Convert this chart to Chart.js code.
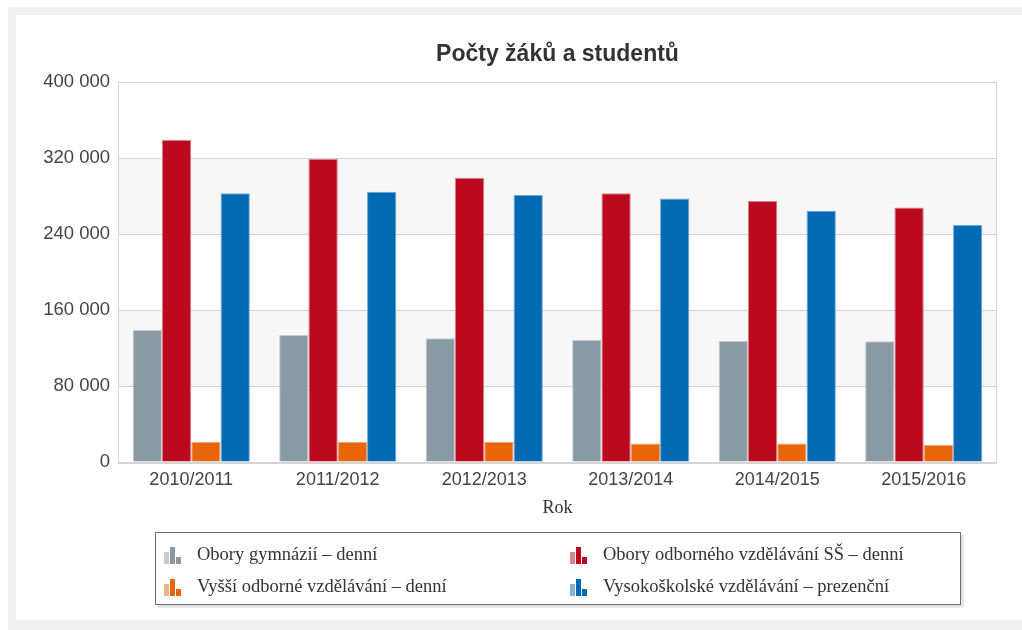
<!DOCTYPE html>
<html>
<head>
<meta charset="utf-8">
<script src="https://cdn.jsdelivr.net/npm/chart.js@4/dist/chart.umd.min.js"></script>
<style>
  html, body { margin: 0; padding: 0; background: #ffffff; }
  #wrap { width: 1022px; height: 630px; position: relative; }
  canvas { display: block; }
</style>
</head>
<body>
<div id="wrap"><canvas id="c" width="1022" height="630"></canvas></div>
<script>
const chartTitle = "Počty žáků a studentů";
const xAxisTitle = "Rok";
const categories = ["2010/2011", "2011/2012", "2012/2013", "2013/2014", "2014/2015", "2015/2016"];
const seriesNames = [
  "Obory gymnázií – denní",
  "Obory odborného vzdělávání SŠ – denní",
  "Vyšší odborné vzdělávání – denní",
  "Vysokoškolské vzdělávání – prezenční"
];
const gymnazia = [139000, 133700, 130200, 128400, 127400, 127000];
const odborne = [338900, 318900, 299300, 282800, 274700, 268000];
const vyssi = [21400, 21400, 21000, 19600, 19600, 17900];
const vysoke = [282800, 284500, 281000, 277500, 264500, 249500];
const yTicks = [0, 80000, 160000, 240000, 320000, 400000];

const fills = ["#8a9aa4", "#bb0a1e", "#e8650c", "#0369b3"];
const edges = ["#c3ccd2", "#dd7d88", "#f3a26c", "#6fa9d9"];

const fmt = v => String(v).replace(/\B(?=(\d{3})+(?!\d))/g, " ");

const framePlugin = {
  id: "frame",
  beforeDraw(chart) {
    const ctx = chart.ctx;
    ctx.save();
    ctx.fillStyle = "#ffffff";
    ctx.fillRect(0, 0, chart.width, chart.height);
    ctx.fillStyle = "#f1f1f1";
    ctx.fillRect(8, 7, chart.width - 8, 8);
    ctx.fillRect(8, 7, 8, chart.height - 7);
    ctx.fillRect(8, 620, chart.width - 8, 10);
    // alternating bands
    const a = chart.chartArea, y = chart.scales.y;
    ctx.fillStyle = "#f7f7f7";
    [[80000, 160000], [240000, 320000]].forEach(([lo, hi]) => {
      const t = y.getPixelForValue(hi), b = y.getPixelForValue(lo);
      ctx.fillRect(a.left, t, a.right - a.left, b - t);
    });
    // title, centred over the plot area
    ctx.fillStyle = "#333333";
    ctx.font = "bold 23px 'Liberation Sans', Arial, sans-serif";
    ctx.textAlign = "center";
    ctx.textBaseline = "middle";
    ctx.fillText(chartTitle, (a.left + a.right) / 2, 55);
    ctx.restore();
  },
  afterDraw(chart) {
    const ctx = chart.ctx;
    const a = chart.chartArea;
    ctx.save();
    ctx.strokeStyle = "#d4d4d4";
    ctx.lineWidth = 1;
    ctx.strokeRect(Math.round(a.left) + 0.5, Math.round(a.top) + 0.5, Math.round(a.right - a.left) - 1, Math.round(a.bottom - a.top));
    ctx.lineWidth = 2;
    ctx.beginPath();
    ctx.moveTo(a.left, Math.round(a.bottom) + 1);
    ctx.lineTo(a.right, Math.round(a.bottom) + 1);
    ctx.stroke();

    // legend box
    const bx = 155.5, by = 532.5, bw = 805, bh = 72;
    ctx.fillStyle = "rgba(0,0,0,0.12)";
    ctx.fillRect(bx + 2, by + 2, bw + 1, bh + 1);
    ctx.fillStyle = "#ffffff";
    ctx.fillRect(bx, by, bw, bh);
    ctx.strokeStyle = "#6e6e6e";
    ctx.lineWidth = 1;
    ctx.strokeRect(bx, by, bw, bh);

    const ds = chart.data.datasets;
    const cols = [164, 570];
    const rows = [555, 587];
    ds.forEach((d, i) => {
      const cx = cols[i % 2], cy = rows[Math.floor(i / 2)];
      const base = cy + 9;
      ctx.globalAlpha = 0.5;
      ctx.fillStyle = d.backgroundColor;
      ctx.fillRect(cx, base - 12, 5, 12);
      ctx.globalAlpha = 1;
      ctx.fillRect(cx + 6, base - 17, 5, 17);
      ctx.fillRect(cx + 12, base - 7, 5, 7);
      ctx.fillStyle = "#333333";
      ctx.font = "18.5px 'Liberation Serif', serif";
      ctx.textBaseline = "middle";
      ctx.textAlign = "left";
      ctx.fillText(d.label, cx + 33, cy);
    });
    ctx.restore();
  }
};

const datasets = [gymnazia, odborne, vyssi, vysoke].map((vals, i) => ({
  label: seriesNames[i],
  data: vals,
  backgroundColor: fills[i],
  borderColor: edges[i],
  borderWidth: 1,
  borderSkipped: "bottom",
  categoryPercentage: 0.8,
  barPercentage: 1.0
}));

new Chart(document.getElementById("c"), {
  type: "bar",
  data: { labels: categories, datasets },
  plugins: [framePlugin],
  options: {
    responsive: false,
    animation: false,
    devicePixelRatio: 1,
    layout: { padding: { left: 0, right: 25, top: 82, bottom: 111 } },
    plugins: {
      legend: { display: false },
      tooltip: { enabled: false },
      title: { display: false }
    },
    scales: {
      x: {
        grid: { display: false, drawTicks: false },
        border: { display: false },
        ticks: {
          color: "#444444",
          padding: 7,
          maxRotation: 0,
          font: { family: "'Liberation Sans', Arial, sans-serif", size: 18 }
        },
        title: {
          display: true,
          text: xAxisTitle,
          color: "#333333",
          padding: { top: 0, bottom: 0 },
          font: { family: "'Liberation Serif', serif", size: 18 }
        },
        afterFit(scale) { scale.height = 57; }
      },
      y: {
        min: 0,
        max: 400000,
        afterBuildTicks(scale) { scale.ticks = yTicks.map(v => ({ value: v })); },
        grid: { color: "#d4d4d4", lineWidth: 1, drawTicks: false },
        border: { display: true, color: "#d4d4d4" },
        ticks: {
          color: "#444444",
          padding: 8,
          font: { family: "'Liberation Sans', Arial, sans-serif", size: 18.5 },
          callback: v => fmt(v)
        },
        afterFit(scale) { scale.width = 118; }
      }
    }
  }
});
</script>
</body>
</html>
